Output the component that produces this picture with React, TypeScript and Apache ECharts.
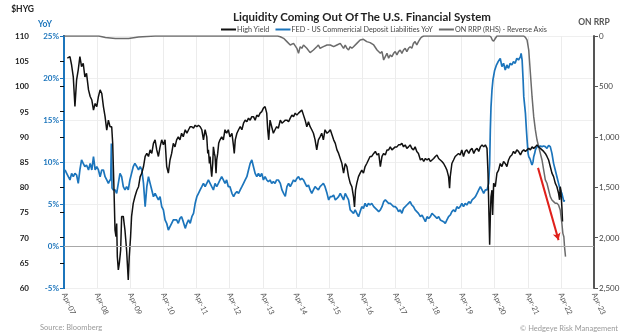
import React, { useEffect, useRef } from "react";
import * as echarts from "echarts";

// x values are decimal years; the axis counts years since Apr-07
const X0 = 2007.25;
const xTickLabels = ["Apr-07","Apr-08","Apr-09","Apr-10","Apr-11","Apr-12","Apr-13","Apr-14","Apr-15","Apr-16","Apr-17","Apr-18","Apr-19","Apr-20","Apr-21","Apr-22","Apr-23"];

const seriesNames = ["High Yield", "FED - US Commericial Deposit Liabilities YoY", "ON RRP (RHS) - Reverse Axis"];

const hygDates = [2007.35,2007.43,2007.48,2007.53,2007.58,2007.63,2007.68,2007.73,2007.78,2007.83,2007.88,2007.93,2007.99,2008.04,2008.09,2008.14,2008.19,2008.24,2008.29,2008.34,2008.39,2008.44,2008.49,2008.54,2008.59,2008.64,2008.69,2008.72,2008.76,2008.79,2008.82,2008.84,2008.86,2008.89,2008.92,2008.96,2008.99,2009.04,2009.09,2009.14,2009.19,2009.22,2009.26,2009.29,2009.34,2009.39,2009.45,2009.5,2009.55,2009.6,2009.65,2009.7,2009.75,2009.8,2009.85,2009.9,2009.95,2010,2010.05,2010.1,2010.15,2010.2,2010.25,2010.3,2010.35,2010.4,2010.45,2010.5,2010.55,2010.6,2010.65,2010.7,2010.75,2010.8,2010.85,2010.91,2010.96,2011.01,2011.06,2011.11,2011.16,2011.21,2011.26,2011.31,2011.36,2011.41,2011.46,2011.51,2011.56,2011.59,2011.61,2011.64,2011.66,2011.69,2011.71,2011.74,2011.76,2011.79,2011.81,2011.84,2011.86,2011.89,2011.92,2011.96,2012.01,2012.06,2012.11,2012.16,2012.21,2012.26,2012.32,2012.37,2012.39,2012.42,2012.47,2012.52,2012.57,2012.62,2012.67,2012.72,2012.77,2012.82,2012.87,2012.92,2012.97,2013.02,2013.07,2013.12,2013.17,2013.22,2013.27,2013.32,2013.37,2013.4,2013.43,2013.47,2013.52,2013.57,2013.62,2013.67,2013.72,2013.78,2013.83,2013.88,2013.93,2013.98,2014.03,2014.08,2014.13,2014.18,2014.23,2014.28,2014.33,2014.38,2014.43,2014.48,2014.53,2014.58,2014.63,2014.68,2014.73,2014.78,2014.83,2014.88,2014.93,2014.98,2015.03,2015.08,2015.13,2015.19,2015.24,2015.29,2015.34,2015.39,2015.44,2015.49,2015.54,2015.59,2015.64,2015.69,2015.74,2015.79,2015.84,2015.89,2015.94,2015.99,2016.02,2016.05,2016.09,2016.14,2016.19,2016.24,2016.29,2016.34,2016.39,2016.44,2016.49,2016.54,2016.6,2016.65,2016.7,2016.75,2016.8,2016.85,2016.9,2016.95,2017,2017.05,2017.1,2017.15,2017.2,2017.25,2017.3,2017.35,2017.4,2017.45,2017.5,2017.55,2017.6,2017.65,2017.7,2017.75,2017.8,2017.85,2017.9,2017.95,2018.01,2018.06,2018.11,2018.16,2018.21,2018.26,2018.31,2018.36,2018.41,2018.46,2018.51,2018.56,2018.61,2018.66,2018.71,2018.76,2018.81,2018.86,2018.89,2018.91,2018.96,2019.01,2019.06,2019.11,2019.16,2019.21,2019.26,2019.31,2019.36,2019.41,2019.47,2019.52,2019.57,2019.62,2019.67,2019.72,2019.77,2019.82,2019.87,2019.92,2019.97,2020.02,2020.05,2020.08,2020.1,2020.12,2020.14,2020.17,2020.19,2020.22,2020.27,2020.32,2020.37,2020.42,2020.47,2020.52,2020.57,2020.62,2020.67,2020.72,2020.77,2020.82,2020.87,2020.92,2020.97,2021.03,2021.08,2021.13,2021.18,2021.23,2021.28,2021.33,2021.38,2021.43,2021.48,2021.53,2021.58,2021.63,2021.68,2021.73,2021.78,2021.83,2021.88,2021.93,2021.98,2022.03,2022.08,2022.13,2022.18,2022.21,2022.23,2022.25,2022.28,2022.3];
const hygValues = [105.6,105.9,104.2,101.9,96,101.3,103.3,105.9,103.9,104.6,101.9,102.6,99.3,98,97.3,95.3,96.6,96,98,99.3,98.6,96,94,91.3,93.3,92,92,88.7,79.4,71.5,70.2,72.8,66.2,63.6,64.9,67.5,74.2,74.2,71.5,67.5,61.6,66.2,70.2,74.2,76.8,78.1,79.4,80.1,82.1,82.8,84.1,86.1,86.7,86.1,87.4,86.7,88.7,89.4,87.4,86.1,88,89.4,88.4,89.4,84.1,82.8,85.4,86.7,88.7,88,89.4,90,89.4,90.7,90,91.4,90.7,91.4,92,92,91.7,92.3,92,92.3,92,91.4,89.4,91.4,90,86.7,87.4,84.7,86.1,83.4,82.1,84.7,88,86.7,86.1,82.8,85.4,86.7,88.7,89.4,90,89.4,91.4,90.7,91.4,90,90.7,88,86.7,89.4,90.7,91.4,92,91.4,92.7,93.3,93,93.7,93.3,94,94,93.3,94.3,94,94.7,95,95.7,96,94.7,91.4,89.4,93.3,92,90.7,91.4,92,91.7,93.3,92.7,93,93.3,93.3,93,93.7,94.3,94,94.7,94.3,94.7,95,95.3,94.3,93.3,92,93,92,91.4,90.7,89.4,87.4,89.4,90,90.7,89.4,91.4,90.7,91,91.4,90.4,89.4,88.7,87.4,86.7,85.7,84.7,82.8,84.7,84.1,82.1,80.8,80.1,78.1,76.1,79.4,80.8,82.1,82.8,83.4,82.8,84.1,84.7,85.4,86.1,86.1,86.7,87.1,86.4,86.7,84.1,86.1,86.7,86.4,87.4,87.4,88,87.4,87.7,88,88,88.4,88.4,88.7,88,88.4,87.7,88,88.4,87.7,87.4,88,87.1,86.7,85.4,85.7,85.1,85.7,85.4,85.7,85.1,85.4,85.7,86.1,86.4,85.7,85.4,85.1,84.7,84.1,83.4,82.1,79.8,82.1,84.7,85.4,86.1,86.4,86.7,86.4,87.4,86.1,87.1,87.4,86.7,87.4,87.7,86.7,87.4,87.7,87.1,88,88.4,88,88.4,87.7,82.8,74.2,68.6,74.2,78.1,79.4,74.5,80.8,80.1,82.8,83.4,84.7,84.1,85.1,84.7,84.1,85.4,86.1,86.4,87.1,86.7,87.4,87.1,86.4,87.1,87.4,87.1,87.4,87.7,87.4,88,87.7,88,88.4,88,87.7,87.4,87.1,86.7,86.1,85.4,84.1,82.8,82.1,80.8,80.1,78.8,77.5,80.1,79.4,76.1,73.2];

const yoyDates = [2007.28,2007.33,2007.38,2007.43,2007.48,2007.53,2007.58,2007.63,2007.68,2007.73,2007.78,2007.83,2007.88,2007.93,2007.99,2008.04,2008.09,2008.14,2008.19,2008.24,2008.29,2008.34,2008.39,2008.44,2008.49,2008.54,2008.59,2008.64,2008.66,2008.68,2008.7,2008.74,2008.79,2008.84,2008.89,2008.94,2008.99,2009.04,2009.09,2009.14,2009.19,2009.24,2009.29,2009.34,2009.39,2009.45,2009.5,2009.55,2009.6,2009.65,2009.7,2009.75,2009.8,2009.85,2009.9,2009.95,2010,2010.05,2010.1,2010.15,2010.2,2010.25,2010.3,2010.35,2010.4,2010.45,2010.5,2010.55,2010.6,2010.65,2010.7,2010.75,2010.8,2010.85,2010.91,2010.96,2011.01,2011.06,2011.11,2011.16,2011.21,2011.26,2011.31,2011.36,2011.41,2011.46,2011.51,2011.56,2011.61,2011.66,2011.71,2011.76,2011.81,2011.86,2011.91,2011.96,2012.01,2012.06,2012.11,2012.16,2012.21,2012.26,2012.32,2012.37,2012.42,2012.47,2012.52,2012.57,2012.62,2012.67,2012.72,2012.77,2012.82,2012.87,2012.92,2012.97,2013.02,2013.07,2013.12,2013.17,2013.22,2013.27,2013.32,2013.37,2013.42,2013.47,2013.52,2013.57,2013.62,2013.67,2013.72,2013.78,2013.83,2013.88,2013.93,2013.98,2014.03,2014.08,2014.13,2014.18,2014.23,2014.28,2014.33,2014.38,2014.43,2014.48,2014.53,2014.58,2014.63,2014.68,2014.73,2014.78,2014.83,2014.88,2014.93,2014.98,2015.03,2015.08,2015.13,2015.19,2015.24,2015.29,2015.34,2015.39,2015.44,2015.49,2015.54,2015.59,2015.64,2015.69,2015.74,2015.79,2015.84,2015.89,2015.94,2015.99,2016.04,2016.09,2016.14,2016.19,2016.24,2016.29,2016.34,2016.39,2016.44,2016.49,2016.54,2016.6,2016.7,2016.75,2016.8,2016.85,2016.9,2016.95,2017,2017.05,2017.1,2017.15,2017.2,2017.25,2017.3,2017.35,2017.4,2017.45,2017.5,2017.6,2017.65,2017.7,2017.75,2017.8,2017.85,2017.9,2017.95,2018.01,2018.06,2018.11,2018.16,2018.21,2018.26,2018.31,2018.36,2018.41,2018.46,2018.51,2018.56,2018.61,2018.71,2018.76,2018.81,2018.86,2018.91,2018.96,2019.01,2019.06,2019.11,2019.16,2019.21,2019.26,2019.31,2019.36,2019.41,2019.47,2019.52,2019.57,2019.62,2019.67,2019.72,2019.77,2019.82,2019.87,2019.92,2019.97,2020.02,2020.07,2020.1,2020.12,2020.14,2020.17,2020.2,2020.25,2020.3,2020.35,2020.42,2020.47,2020.52,2020.57,2020.62,2020.67,2020.72,2020.77,2020.82,2020.87,2020.92,2020.97,2021.03,2021.05,2021.08,2021.11,2021.13,2021.16,2021.18,2021.21,2021.23,2021.26,2021.28,2021.31,2021.33,2021.36,2021.38,2021.41,2021.43,2021.46,2021.48,2021.53,2021.58,2021.63,2021.68,2021.73,2021.78,2021.83,2021.88,2021.93,2021.98,2022.03,2022.08,2022.13,2022.18,2022.23,2022.28,2022.34,2022.36];
const yoyValues = [9.05,8.65,8.25,7.86,8.65,8.25,8.65,8.45,7.46,9.05,10.24,9.84,9.44,9.64,9.05,9.84,9.05,10.63,9.05,9.44,9.05,8.25,9.05,9.05,8.25,7.86,7.46,7.86,7.9,12.2,6.9,6.67,6.67,6.27,7.46,8.65,8.25,7.06,6.67,7.06,6.67,7.86,8.65,9.44,9.84,9.44,9.05,9.44,9.05,7.46,4.68,7.06,8.25,7.46,6.67,5.87,6.27,5.87,5.48,5.87,4.68,4.29,3.1,2.7,1.9,2.3,2.7,3.1,3.1,3.1,2.7,3.29,3.49,2.9,2.1,2.7,3.1,2.7,3.49,3.89,5.08,5.87,6.27,6.67,7.06,7.46,7.06,7.46,7.86,7.46,7.06,6.67,7.46,7.06,7.46,7.86,8.25,7.86,7.46,7.86,7.06,7.06,6.27,5.87,6.27,6.47,6.27,6.67,7.06,7.46,7.86,8.25,9.05,9.84,10.24,9.44,8.65,8.25,8.65,8.25,8.65,7.86,8.25,7.86,7.66,7.86,7.46,7.66,7.46,7.86,7.86,7.46,6.67,6.27,5.9,7.06,7.46,7.06,7.46,7.86,7.66,8.06,8.25,7.86,8.06,7.86,7.46,7.06,7.26,6.67,6.27,6.67,7.06,6.87,6.67,7.06,7.26,7.46,7.06,6.27,5.48,5.87,5.87,6.07,5.48,5.67,5.87,6.27,5.87,5.48,6.27,5.87,5.48,4.29,4.09,3.89,4.29,3.89,3.49,4.09,4.68,4.48,5.08,4.68,5.08,4.88,5.08,4.68,4.29,4.09,4.29,4.68,5.28,5.48,5.28,5.08,5.08,4.88,4.68,4.68,4.48,4.09,4.29,3.89,4.48,4.88,5.08,5.28,4.88,4.68,4.29,4.09,3.89,3.49,3.69,3.29,2.9,3.49,3.29,3.49,3.89,3.69,3.49,3.29,3.49,3.1,2.9,2.7,3.1,3.49,3.69,4.09,4.29,4.09,4.68,4.48,4.68,5.08,4.68,5.08,4.88,5.28,5.08,5.48,5.67,5.87,6.27,6.67,7.06,6.67,6.27,6.67,6.67,7.46,9.84,13.81,16.5,18.57,19.8,20.9,21.5,21.9,22.34,21.35,21.75,20.95,21.55,21.15,21.75,21.55,21.94,21.75,22.34,22.14,22.54,22.94,22.14,19.76,17.78,16.59,15.79,13.81,12.62,11.03,10.63,10.44,10.24,9.84,9.64,10.04,10.63,11.03,11.43,11.83,11.83,11.9,11.83,11.9,11.83,11.63,11.98,11.83,11.03,9.84,9.05,8.25,7.46,6.67,6.27,5.28,5.48];

const rrpDates = [2007.25,2008.3,2008.5,2008.8,2009.2,2009.5,2010,2013.7,2013.78,2013.88,2013.98,2014.08,2014.18,2014.28,2014.33,2014.38,2014.43,2014.48,2014.58,2014.68,2014.78,2014.88,2014.93,2014.98,2015.08,2015.19,2015.29,2015.39,2015.49,2015.59,2015.69,2015.74,2015.79,2015.84,2015.89,2015.94,2015.99,2016.09,2016.19,2016.29,2016.39,2016.49,2016.6,2016.7,2016.8,2016.85,2016.9,2016.95,2017,2017.05,2017.1,2017.15,2017.2,2017.25,2017.3,2017.35,2017.4,2017.45,2017.5,2017.55,2017.6,2017.65,2017.7,2017.75,2017.8,2017.85,2017.9,2017.95,2018.01,2018.06,2018.11,2020.1,2020.14,2020.18,2020.22,2020.27,2020.32,2021.13,2021.18,2021.23,2021.28,2021.33,2021.38,2021.43,2021.48,2021.53,2021.58,2021.63,2021.68,2021.73,2021.78,2021.83,2021.88,2021.93,2021.98,2022.03,2022.08,2022.13,2022.18,2022.23,2022.28,2022.31,2022.34,2022.36,2022.39];
const rrpValues = [0,0,15,25,25,10,0,0,7,23,56,89,73,122,172,106,122,89,122,165,139,106,89,122,106,89,89,106,89,73,122,89,122,139,106,122,106,73,40,33,56,66,89,139,172,155,238,205,172,221,188,205,172,155,188,155,139,172,139,122,155,122,106,122,73,56,89,56,23,7,0,0,10,40,50,25,0,0,13,40,139,370,602,800,932,1032,1098,1164,1230,1329,1428,1461,1528,1594,1627,1643,1660,1660,1677,1726,1858,1958,1991,2090,2189];

// red annotation arrow, in [decimal year, YoY %]
const arrowStart = [2021.56, 9.3];
const arrowEnd = [2022.18, 0.7];

const FONT = "Lato";
const BLUE = "#1c75bc";
const GREY = "#6b6b6b";

export default function App() {
  const ref = useRef<HTMLDivElement>(null);
  useEffect(() => {
    if (!ref.current) return;
    const chart = echarts.init(ref.current, null, { renderer: "svg" });
    const toXY = (d: number[], v: number[]) => d.map((t, i) => [+(t - X0).toFixed(3), v[i]]);
    chart.setOption({
      animation: false,
      textStyle: { fontFamily: FONT },
      title: {
        text: "Liquidity Coming Out Of The U.S. Financial System",
        left: 357,
        top: 5,
        textAlign: "center",
        textStyle: { fontFamily: FONT, fontSize: 11.5, fontWeight: "bold", color: "#222" },
      },
      legend: {
        data: seriesNames,
        left: 216,
        top: 21,
        icon: "rect",
        itemWidth: 15,
        itemHeight: 2,
        itemGap: 6,
        textStyle: { fontFamily: FONT, fontSize: 7.2, color: "#444", padding: [0, 0, 0, -4] },
      },
      grid: { left: 64, right: 29, top: 36, bottom: 48, containLabel: false },
      xAxis: {
        type: "value",
        min: 0,
        max: 16,
        interval: 1,
        axisLine: { show: false },
        axisTick: { show: false },
        splitLine: { show: true, lineStyle: { color: "#ececec", width: 1 } },
        axisLabel: {
          rotate: -66,
          fontSize: 7.5,
          color: "#555",
          margin: 5,
          fontFamily: FONT,
          formatter: (v: number) => xTickLabels[Math.round(v)] ?? "",
        },
      },
      yAxis: [
        {
          type: "value",
          position: "left",
          offset: 29,
          min: 60,
          max: 110,
          interval: 5,
          name: "$HYG",
          nameLocation: "end",
          nameGap: 23,
          nameTextStyle: { fontFamily: FONT, fontSize: 8.5, fontWeight: "bold", color: "#222", align: "right", padding: [0, 30, 0, 0] },
          axisLine: { show: true, lineStyle: { color: "#111", width: 2 } },
          axisTick: { show: true, length: 4, lineStyle: { color: "#111", width: 1 } },
          axisLabel: { fontFamily: FONT, fontSize: 8, fontWeight: "bold", color: "#222", margin: 6 },
          splitLine: { show: false },
        },
        {
          type: "value",
          position: "left",
          offset: 0,
          min: -5,
          max: 25,
          interval: 5,
          name: "YoY",
          nameLocation: "end",
          nameGap: 8,
          nameTextStyle: { fontFamily: FONT, fontSize: 8.5, fontWeight: "bold", color: BLUE, align: "right", padding: [0, 12, 0, 0] },
          axisLine: { show: true, lineStyle: { color: BLUE, width: 2 } },
          axisTick: { show: true, length: 4, lineStyle: { color: BLUE, width: 1 } },
          axisLabel: { fontFamily: FONT, fontSize: 8, fontWeight: "bold", color: BLUE, margin: 5, formatter: (v: number) => v + "%" },
          splitLine: { show: true, lineStyle: { color: "#efefef", width: 1 } },
        },
        {
          type: "value",
          position: "right",
          inverse: true,
          min: 0,
          max: 2500,
          interval: 500,
          name: "ON RRP",
          nameLocation: "start",
          nameGap: 10,
          nameTextStyle: { fontFamily: FONT, fontSize: 8.5, fontWeight: "bold", color: "#555", align: "center" },
          axisLine: { show: true, lineStyle: { color: "#555", width: 2 } },
          axisTick: { show: true, length: 4, lineStyle: { color: "#555", width: 1 } },
          axisLabel: { fontFamily: FONT, fontSize: 8, color: "#444", margin: 5, formatter: (v: number) => v.toLocaleString("en-US") },
          splitLine: { show: false },
        },
      ],
      series: [
        {
          name: seriesNames[0],
          type: "line",
          yAxisIndex: 0,
          data: toXY(hygDates, hygValues),
          showSymbol: false,
          color: "#111",
          lineStyle: { color: "#111", width: 1.5 },
          z: 4,
        },
        {
          name: seriesNames[1],
          type: "line",
          yAxisIndex: 1,
          data: toXY(yoyDates, yoyValues),
          showSymbol: false,
          color: BLUE,
          lineStyle: { color: BLUE, width: 1.7 },
          z: 3,
          markLine: {
            silent: true,
            symbol: ["none", "none"],
            label: { show: false },
            animation: false,
            data: [
              { yAxis: 0, lineStyle: { color: "#a8a8a8", width: 1, type: "solid" } },
              [
                { coord: [arrowStart[0] - X0, arrowStart[1]], symbol: "none", lineStyle: { color: "#e0201b", width: 2, type: "solid" } },
                { coord: [arrowEnd[0] - X0, arrowEnd[1]], symbol: "arrow", symbolSize: [6, 7] },
              ],
            ],
          },
        },
        {
          name: seriesNames[2],
          type: "line",
          yAxisIndex: 2,
          data: toXY(rrpDates, rrpValues),
          showSymbol: false,
          color: GREY,
          lineStyle: { color: GREY, width: 1.5 },
          z: 2,
        },
      ],
      graphic: [
        { type: "text", left: 40, top: 323, style: { text: "Source: Bloomberg", fontFamily: FONT, fontSize: 7.5, fill: "#9a9a9a" } },
        { type: "text", right: 5, top: 324, style: { text: "© Hedgeye Risk Management", fontFamily: FONT, fontSize: 7.5, fill: "#9a9a9a" } },
      ],
    });
    return () => chart.dispose();
  }, []);
  return <div ref={ref} style={{ width: 623, height: 336, position: "fixed", left: 0, top: 0 }} />;
}
